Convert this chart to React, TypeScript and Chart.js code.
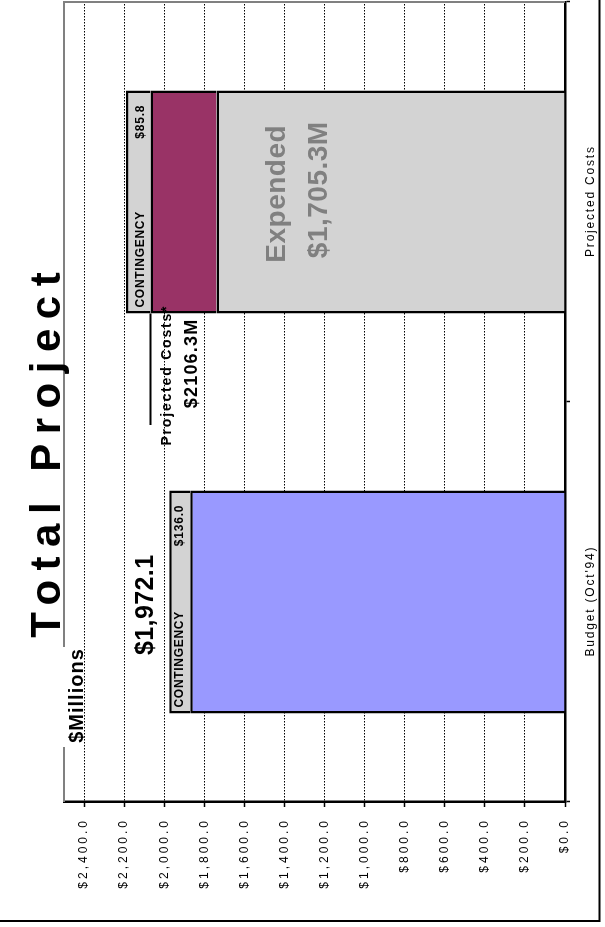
import React, { useEffect, useRef } from "react";
import { Chart, registerables } from "chart.js";
Chart.register(...registerables);

// ---- data ----
const categories = ["Budget (Oct'94)", "Projected Costs"];
const baseSeries = [1870, 1739]; // Budget base / Expended
const remainingSeries = [null, 329]; // Projected remaining
const contingencySeries = [105, 123];
const contingencyValueLabels = ["$136.0", "$85.8"];
const valueTicks = [0, 200, 400, 600, 800, 1000, 1200, 1400, 1600, 1800, 2000, 2200, 2400];
const axisMax = 2500;
const titleText = "Total Project";
const unitText = "$Millions";
const budgetTotalText = "$1,972.1";
const projectedNoteText = "Projected Costs*";
const projectedTotalText = "$2106.3M";
const expendedTexts = ["Expended", "$1,705.3M"];

const W = 927;
const H = 605;
const FONT = '"Liberation Sans", Arial, Helvetica, sans-serif';

function drawText(
  ctx: CanvasRenderingContext2D,
  s: string,
  x: number,
  y: number,
  size: number,
  weight: string,
  color: string,
  align: CanvasTextAlign,
  spacing: number,
  baseline: CanvasTextBaseline = "alphabetic"
) {
  ctx.save();
  ctx.font = `${weight} ${size}px ${FONT}`;
  ctx.fillStyle = color;
  (ctx as any).letterSpacing = `${spacing}px`;
  ctx.textAlign = align;
  ctx.textBaseline = baseline;
  let dx = 0;
  if (align === "center") dx = spacing / 2;
  else if (align === "right") dx = spacing;
  ctx.fillText(s, x + dx, y);
  ctx.restore();
}

const fmt = (v: number) =>
  "$" + v.toLocaleString("en-US", { minimumFractionDigits: 1, maximumFractionDigits: 1 });

const decorPlugin = {
  id: "decor",
  afterDraw(chart: any) {
    const ctx: CanvasRenderingContext2D = chart.ctx;
    const ca = chart.chartArea;
    const xs = chart.scales.x;
    const ys = chart.scales.y;

    // plot area border (gray) on the two open sides
    ctx.save();
    ctx.strokeStyle = "#808080";
    ctx.lineWidth = 2;
    ctx.beginPath();
    ctx.moveTo(ca.left, ca.top);
    ctx.lineTo(ca.right, ca.top);
    ctx.lineTo(ca.right, ca.bottom);
    ctx.stroke();
    ctx.restore();

    // outer frame
    ctx.save();
    ctx.strokeStyle = "#000";
    ctx.lineWidth = 2;
    ctx.beginPath();
    ctx.moveTo(6, 0);
    ctx.lineTo(6, 599.5);
    ctx.lineTo(W, 599.5);
    ctx.stroke();
    ctx.restore();

    // value tick labels
    ys.ticks.forEach((t: any) => {
      const v = ys.getPixelForValue(t.value);
      drawText(ctx, fmt(t.value), 106, v, 12, "normal", "#000", "right", 3, "middle");
    });

    // category labels
    categories.forEach((c, i) => {
      const u = xs.getPixelForValue(i);
      drawText(ctx, c, u, 594, 12, "normal", "#000", "center", 1.8);
    });

    // contingency labels
    const cm = chart.getDatasetMeta(2);
    cm.data.forEach((el: any, i: number) => {
      const left = el.x - el.width / 2;
      const right = el.x + el.width / 2;
      const bl = el.base - 7;
      drawText(ctx, "CONTINGENCY", left + 6, bl, 12, "bold", "#000", "left", 0.7);
      drawText(ctx, contingencyValueLabels[i], right - 15, bl, 12, "bold", "#000", "right", 0.8);
    });

    // Expended text inside projected bar
    const bm = chart.getDatasetMeta(0);
    const pe = bm.data[1];
    drawText(ctx, expendedTexts[0], pe.x + 8, 285, 28, "bold", "#808080", "center", 0.5);
    drawText(ctx, expendedTexts[1], pe.x + 12, 327, 28, "bold", "#808080", "center", 0.5);

    // bracket line from projected bar at remaining top
    const rm = chart.getDatasetMeta(1);
    const pr = rm.data[1];
    ctx.save();
    ctx.strokeStyle = "#000";
    ctx.lineWidth = 2;
    ctx.beginPath();
    ctx.moveTo(pr.x - pr.width / 2, pr.y);
    ctx.lineTo(502, pr.y);
    ctx.stroke();
    ctx.restore();

    drawText(ctx, projectedNoteText, 551, 171, 14, "bold", "#000", "center", 1.8);
    drawText(ctx, projectedTotalText, 563, 197, 18, "bold", "#000", "center", 1.2);

    // budget total
    const bb = bm.data[0];
    drawText(ctx, budgetTotalText, bb.x - 3, 153, 25, "bold", "#000", "center", 0.4);

    // $Millions with white box
    ctx.save();
    ctx.fillStyle = "#fff";
    ctx.fillRect(180, 58, 100, 26);
    ctx.restore();
    drawText(ctx, unitText, 231, 83, 20, "bold", "#000", "center", 1);

    // title
    drawText(ctx, titleText, 472, 60, 42, "bold", "#000", "center", 9.5);
  },
};

export default function App() {
  const ref = useRef<HTMLCanvasElement | null>(null);
  useEffect(() => {
    if (!ref.current) return;
    const common = {
      borderColor: "#000",
      borderWidth: 2.5,
      categoryPercentage: 0.5575,
      barPercentage: 1,
    };
    const chart = new Chart(ref.current, {
      type: "bar",
      data: {
        labels: categories,
        datasets: [
          { label: "Base", data: baseSeries, backgroundColor: ["#9999FF", "#D3D3D3"], ...common },
          { label: "Remaining", data: remainingSeries as any, backgroundColor: "#993366", ...common },
          { label: "Contingency", data: contingencySeries, backgroundColor: "#D3D3D3", ...common },
        ],
      },
      options: {
        responsive: false,
        animation: false,
        devicePixelRatio: 1,
        layout: { padding: { left: 0, right: 2, top: 64, bottom: 0 } },
        plugins: {
          legend: { display: false },
          tooltip: { enabled: false },
          title: { display: false },
        },
        scales: {
          x: {
            stacked: true,
            offset: true,
            ticks: { display: false },
            grid: {
              display: true,
              drawOnChartArea: false,
              drawTicks: true,
              tickLength: 5,
              tickColor: "#000",
              tickWidth: 1.5,
              offset: true,
            },
            border: { display: true, color: "#000", width: 2.5 },
            afterFit: (s: any) => {
              s.height = 40;
            },
          },
          y: {
            stacked: true,
            min: 0,
            max: axisMax,
            ticks: { display: false, stepSize: 200 },
            afterBuildTicks: (s: any) => {
              s.ticks = valueTicks.map((v) => ({ value: v }));
            },
            grid: {
              color: "#000",
              lineWidth: 1,
              tickLength: 5,
              tickColor: "#000",
              tickWidth: 1.5,
              tickBorderDash: [],
            },
            border: { display: true, color: "#000", width: 2.5, dash: [1.5, 1.5] },
            afterFit: (s: any) => {
              s.width = 125;
            },
          },
        },
      } as any,
      plugins: [decorPlugin],
    });
    return () => chart.destroy();
  }, []);

  return (
    <div
      style={{
        position: "absolute",
        left: 0,
        top: 0,
        width: 605,
        height: 927,
        overflow: "hidden",
        background: "#fff",
      }}
    >
      <div
        style={{
          position: "absolute",
          left: 0,
          top: W,
          width: W,
          height: H,
          transformOrigin: "0 0",
          transform: "rotate(-90deg)",
        }}
      >
        <canvas ref={ref} width={W} height={H} style={{ display: "block", width: W, height: H }} />
      </div>
    </div>
  );
}
